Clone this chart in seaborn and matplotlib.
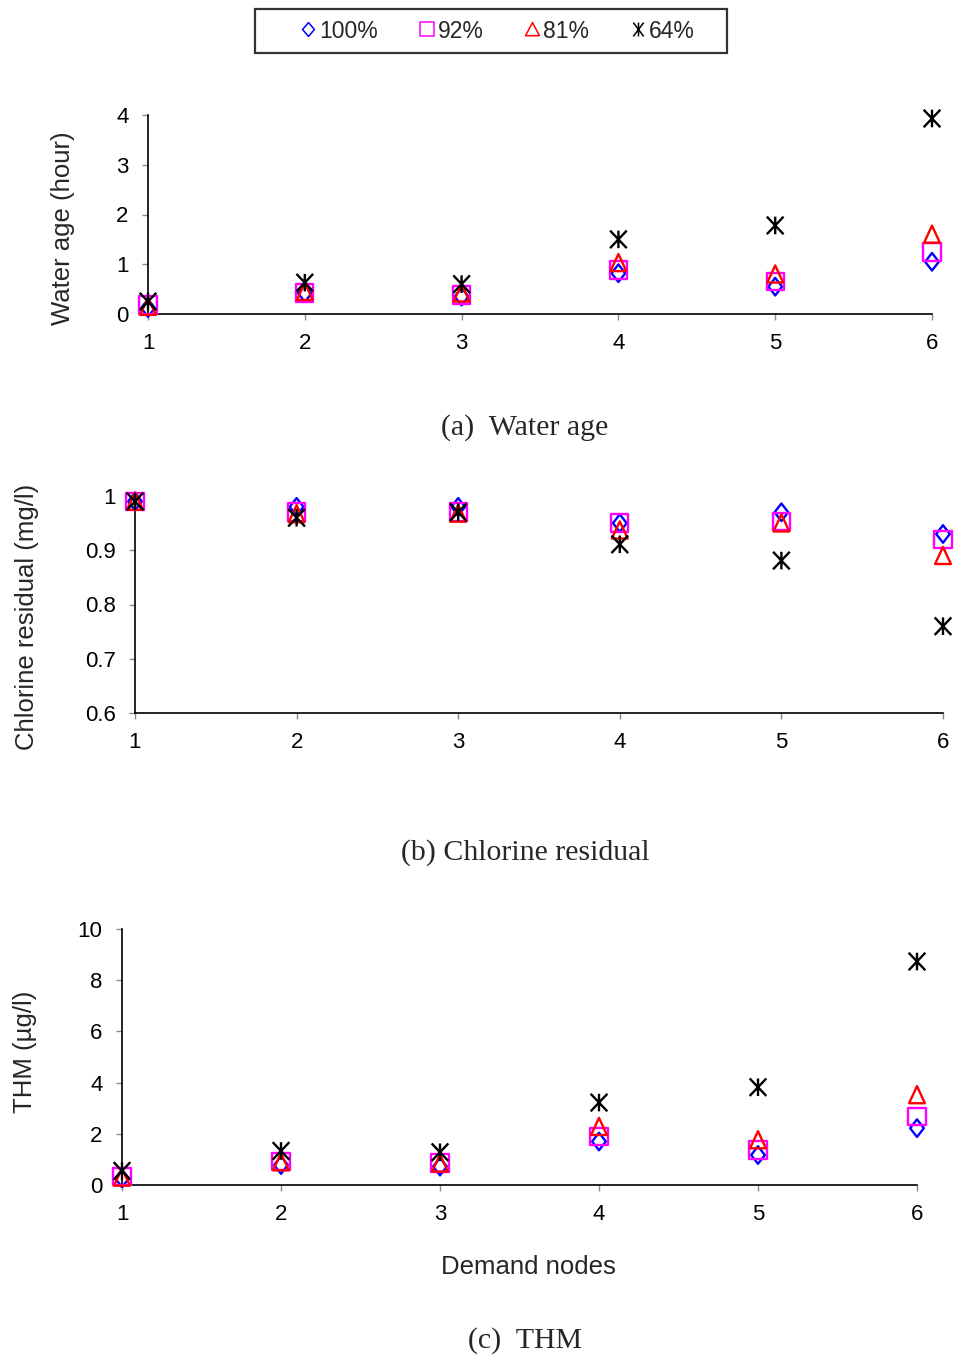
import matplotlib
matplotlib.use("Agg")
import matplotlib.pyplot as plt
import seaborn as sns
import pandas as pd
from matplotlib.path import Path
from matplotlib.lines import Line2D
from matplotlib.patches import Rectangle

# ---------------- data ----------------
nodes = [1, 2, 3, 4, 5, 6]
series_labels = ["100%", "92%", "81%", "64%"]

age_100 = [0.12, 0.42, 0.35, 0.82, 0.55, 1.05]
age_92 = [0.18, 0.42, 0.38, 0.89, 0.65, 1.25]
age_81 = [0.15, 0.45, 0.42, 1.03, 0.80, 1.60]
age_64 = [0.25, 0.63, 0.60, 1.50, 1.78, 3.93]

cl_100 = [0.990, 0.980, 0.980, 0.950, 0.970, 0.930]
cl_92 = [0.990, 0.970, 0.970, 0.950, 0.953, 0.920]
cl_81 = [0.990, 0.967, 0.968, 0.937, 0.950, 0.890]
cl_64 = [0.990, 0.960, 0.970, 0.911, 0.881, 0.760]

thm_100 = [0.26, 0.78, 0.72, 1.70, 1.17, 2.22]
thm_92 = [0.33, 0.91, 0.85, 1.89, 1.37, 2.67]
thm_81 = [0.30, 0.90, 0.85, 2.28, 1.76, 3.52]
thm_64 = [0.55, 1.33, 1.28, 3.22, 3.82, 8.73]

age_ticks = [0, 1, 2, 3, 4]
cl_ticks = [0.6, 0.7, 0.8, 0.9, 1.0]
cl_ticklabels = ["0.6", "0.7", "0.8", "0.9", "1"]
thm_ticks = [0, 2, 4, 6, 8, 10]

# ---------------- style ----------------
sns.set_style("ticks")
plt.rcParams["font.family"] = ["Liberation Sans", "DejaVu Sans"]

W, H = 956, 1361
fig = plt.figure(figsize=(W / 100, H / 100), dpi=100)

M, L, C = Path.MOVETO, Path.LINETO, Path.CLOSEPOLY
p_diamond = Path([(0, -1), (0.78, 0), (0, 1), (-0.78, 0), (0, -1)], [M, L, L, L, C])
p_square = Path([(-0.92, -0.95), (0.92, -0.95), (0.92, 0.95), (-0.92, 0.95), (-0.92, -0.95)],
                [M, L, L, L, C])
p_triangle = Path([(-0.9, -0.95), (0.9, -0.95), (0, 1), (-0.9, -0.95)], [M, L, L, C])
p_star = Path([(0, -1), (0, 1), (-0.95, -1), (0.95, 1), (-0.95, 1), (0.95, -1)],
              [M, L, M, L, M, L])

l_diamond = Path([(0, -1), (0.85, 0), (0, 1), (-0.85, 0), (0, -1)], [M, L, L, L, C])
l_square = Path([(-0.85, -0.85), (0.85, -0.85), (0.85, 0.85), (-0.85, 0.85), (-0.85, -0.85)],
                [M, L, L, L, C])
l_triangle = Path([(-0.9, -0.8), (0.9, -0.8), (0, 0.9), (-0.9, -0.8)], [M, L, L, C])
l_star = Path([(0, -1), (0, 1), (-0.75, -1), (0.75, 1), (-0.75, 1), (0.75, -1)],
              [M, L, M, L, M, L])

colors = ["#0000FF", "#FF00FF", "#FF0000", "#000000"]
markers = [p_diamond, p_square, p_triangle, p_star]
leg_markers = [l_diamond, l_square, l_triangle, l_star]


def px_axes(x0, x1, y_top, y_bot):
    return fig.add_axes([x0 / W, 1 - y_bot / H, (x1 - x0) / W, (y_bot - y_top) / H])


panels = [
    dict(box=(148, 932, 115, 314), data=[age_100, age_92, age_81, age_64],
         ylim=(0, 4), ticks=age_ticks, ticklabels=[str(t) for t in age_ticks]),
    dict(box=(135, 943, 496, 713), data=[cl_100, cl_92, cl_81, cl_64],
         ylim=(0.6, 1.0), ticks=cl_ticks, ticklabels=cl_ticklabels),
    dict(box=(122, 917, 929, 1185), data=[thm_100, thm_92, thm_81, thm_64],
         ylim=(0, 10), ticks=thm_ticks, ticklabels=[str(t) for t in thm_ticks]),
]

for p in panels:
    ax = px_axes(*p["box"])
    for vals, col, mk in zip(p["data"], colors, markers):
        df = pd.DataFrame({"node": nodes, "value": vals})
        sns.scatterplot(data=df, x="node", y="value", ax=ax, marker=mk, s=160,
                        facecolor="none", edgecolor=col, linewidth=1.7,
                        clip_on=False, zorder=3)
    ax.set_xlim(1, 6)
    ax.set_ylim(*p["ylim"])
    ax.set_xticks(nodes)
    ax.set_xticklabels([str(n) for n in nodes])
    ax.set_yticks(p["ticks"])
    ax.set_yticklabels(p["ticklabels"])
    ax.set_xlabel("")
    ax.set_ylabel("")
    sns.despine(ax=ax)
    for sp in ["left", "bottom"]:
        ax.spines[sp].set_color("black")
        ax.spines[sp].set_linewidth(1.2)
    ax.tick_params(axis="both", direction="out", length=4, width=1.0,
                   color="#8c8c8c", labelsize=16, labelcolor="black")
    ax.tick_params(axis="x", pad=10)
    ax.tick_params(axis="y", pad=10)
    ax.patch.set_alpha(0)

# y-labels
fig.text(63 / W, 1 - 228 / H, "Water age (hour)", rotation=90, ha="center",
         va="center", fontsize=18.5)
fig.text(27 / W, 1 - 617 / H, "Chlorine residual (mg/l)", rotation=90,
         ha="center", va="center", fontsize=18.5)
fig.text(25 / W, 1 - 1052 / H, "THM (\u00b5g/l)", rotation=90, ha="center",
         va="center", fontsize=18.5)

# x-label
fig.text(528 / W, 1 - 1267 / H, "Demand nodes", ha="center", va="center",
         fontsize=18.5)

# captions
serif = ["Liberation Serif", "DejaVu Serif"]
fig.text(525 / W, 1 - 428 / H, "(a)  Water age", ha="center", va="center",
         fontsize=21.5, family=serif)
fig.text(525 / W, 1 - 853 / H, "(b) Chlorine residual", ha="center",
         va="center", fontsize=21.5, family=serif)
fig.text(525 / W, 1 - 1341 / H, "(c)  THM", ha="center", va="center",
         fontsize=21.5, family=serif)

# legend
handles = [Line2D([], [], linestyle="none", marker=mk, markersize=10,
                  markerfacecolor="none", markeredgecolor=col,
                  markeredgewidth=1.1)
           for mk, col in zip(leg_markers, colors)]
fig.legend(handles, series_labels, loc="center", ncol=4, frameon=False,
           bbox_to_anchor=(497 / W, 1 - 31 / H), fontsize=16.5,
           handlelength=0.75, handletextpad=0.1, columnspacing=1.75)
fig.patches.append(Rectangle((255 / W, 1 - 53 / H), 472 / W, 44 / H,
                             transform=fig.transFigure, fill=False,
                             edgecolor="#333333", linewidth=1.6))

fig.savefig("out.png", dpi=100)
